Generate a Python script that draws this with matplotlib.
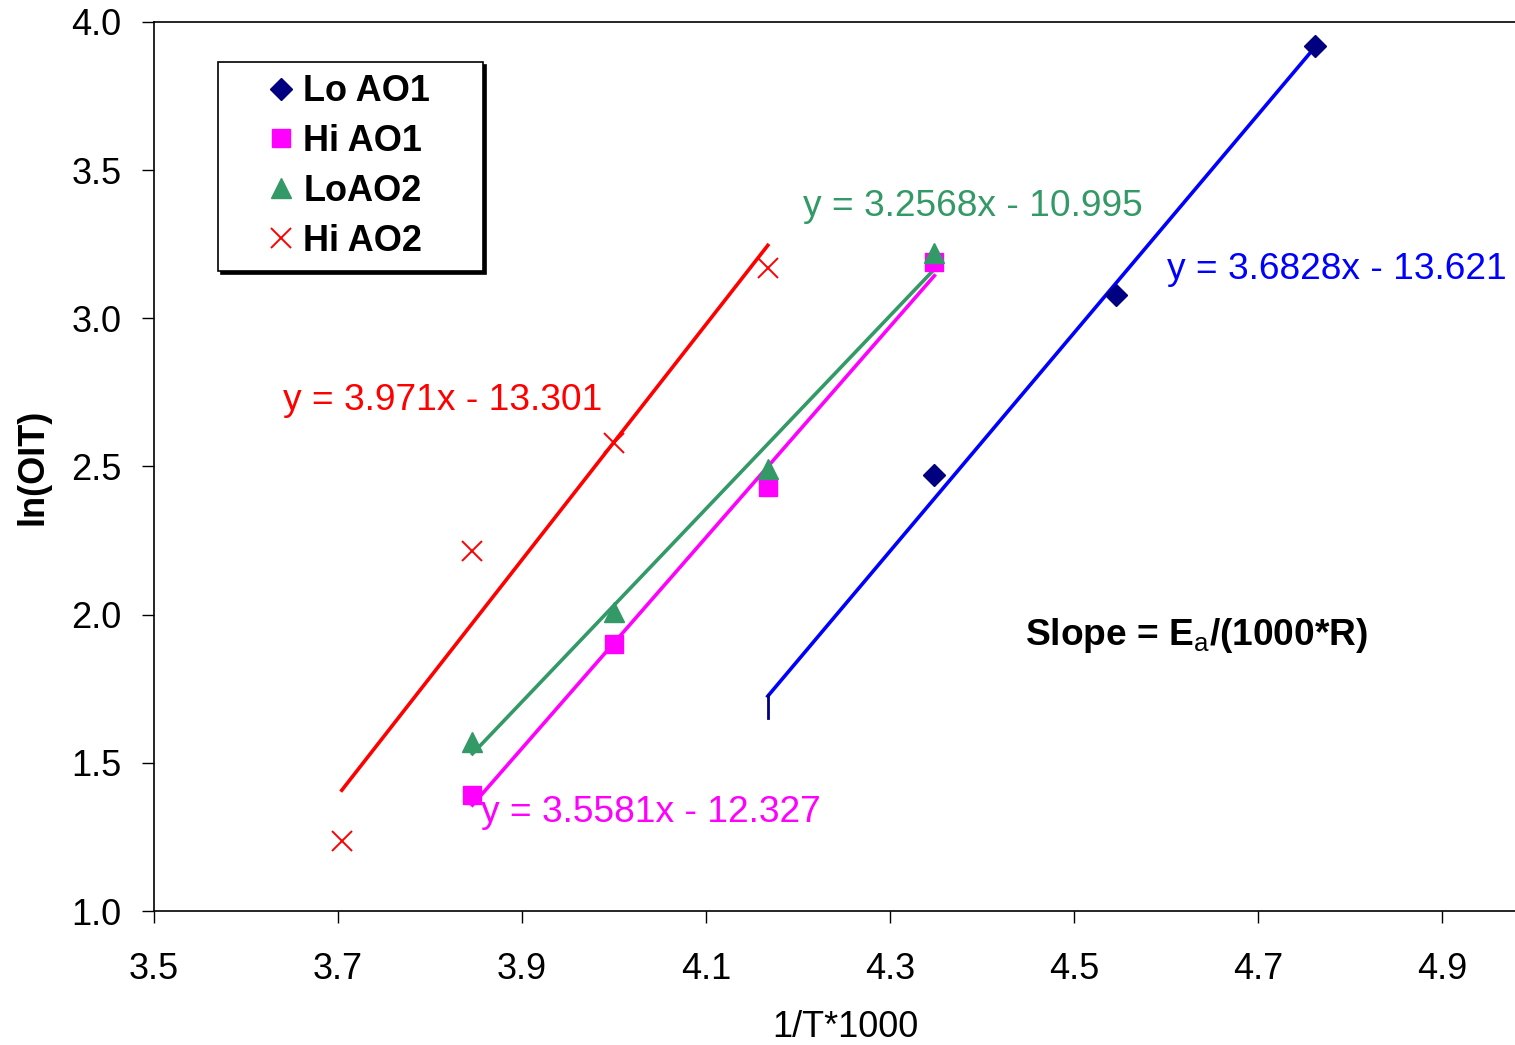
import numpy as np
import matplotlib
matplotlib.use("Agg")
import matplotlib.pyplot as plt

plt.rcParams['font.family'] = ['Liberation Sans', 'DejaVu Sans']
plt.rcParams['mathtext.fontset'] = 'custom'
plt.rcParams['mathtext.rm'] = 'Liberation Sans'
plt.rcParams['mathtext.bf'] = 'Liberation Sans:bold'

# data: x = 1000/T, y = ln(OIT)
lo_ao1_x = [4.348, 4.545, 4.762]
lo_ao1_y = [2.47, 3.08, 3.92]
hi_ao1_x = [3.846, 4.000, 4.167, 4.348]
hi_ao1_y = [1.39, 1.90, 2.43, 3.19]
lo_ao2_x = [3.846, 4.000, 4.167, 4.348]
lo_ao2_y = [1.57, 2.01, 2.49, 3.22]
hi_ao2_x = [3.704, 3.846, 4.000, 4.167]
hi_ao2_y = [1.235, 2.215, 2.58, 3.17]

# trendlines (slope, intercept, x range)
lo_ao1_fit = (3.6828, -13.621, 4.167, 4.762)
hi_ao1_fit = (3.5581, -12.327, 3.846, 4.348)
lo_ao2_fit = (3.2568, -10.995, 3.846, 4.348)
hi_ao2_fit = (3.971, -13.301, 3.704, 4.167)

# little navy stub under the blue line
stub_x = [4.167, 4.167]
stub_y = [1.65, 1.73]

labels = ["Lo AO1", "Hi AO1", "LoAO2", "Hi AO2"]

fig = plt.figure(figsize=(15.15, 10.45), dpi=100)
ax = fig.add_axes([0.1017, 0.1282, 0.8983, 0.8508])

def fitline(fit):
    m, b, x0, x1 = fit
    xs = np.array([x0, x1])
    return xs, m * xs + b

lw = 2.6
xs, ys = fitline(lo_ao1_fit)
ax.plot(xs, ys, color='#0000FF', lw=lw, zorder=2)
xs, ys = fitline(hi_ao1_fit)
ax.plot(xs, ys, color='#FF00FF', lw=lw, zorder=2)
xs, ys = fitline(lo_ao2_fit)
ax.plot(xs, ys, color='#339966', lw=lw, zorder=2)
xs, ys = fitline(hi_ao2_fit)
ax.plot(xs, ys, color='#FF0000', lw=lw, zorder=2)
ax.plot(stub_x, stub_y, color='#000080', lw=2, zorder=2)

ax.plot(lo_ao1_x, lo_ao1_y, 'D', color='#000080', ms=11, ls='none', label=labels[0], zorder=3)
ax.plot(hi_ao1_x, hi_ao1_y, 's', color='#FF00FF', ms=13, ls='none', label=labels[1], zorder=3)
ax.plot(lo_ao2_x, lo_ao2_y, '^', color='#339966', ms=14, ls='none', label=labels[2], zorder=3)
ax.plot(hi_ao2_x, hi_ao2_y, 'x', color='#FF0000', ms=15, mew=1.4, ls='none', label=labels[3], zorder=3)

fs = 26
tfs = 26.7
ax.text(4.205, 3.378, "y = 3.2568x - 10.995", color='#339966', fontsize=tfs, va='center')
ax.text(4.601, 3.166, "y = 3.6828x - 13.621", color='#0000FF', fontsize=tfs, va='center')
ax.text(3.640, 2.724, "y = 3.971x - 13.301", color='#FF0000', fontsize=tfs, va='center')
ax.text(3.855, 1.333, "y = 3.5581x - 12.327", color='#FF00FF', fontsize=tfs, va='center')
ax.text(4.446, 1.930, r"Slope = E$_\mathrm{a}$/(1000*R)", color='black', fontsize=tfs,
        fontweight='bold', va='center')

ax.set_xlim(3.5, 4.979)
ax.set_ylim(1.0, 4.0)
ax.set_xticks(np.arange(3.5, 4.95, 0.2))
ax.set_yticks(np.arange(1.0, 4.01, 0.5))
ax.xaxis.set_major_formatter(matplotlib.ticker.FormatStrFormatter('%.1f'))
ax.yaxis.set_major_formatter(matplotlib.ticker.FormatStrFormatter('%.1f'))
ax.tick_params(direction='out', length=8.5, width=1, labelsize=fs)
ax.tick_params(axis='y', pad=15)
ax.tick_params(axis='x', pad=21)
ax.spines['right'].set_visible(False)
for s in ['left', 'bottom', 'top']:
    ax.spines[s].set_linewidth(1.2)

ax.set_xlabel("1/T*1000", fontsize=fs)
ax.set_ylabel("ln(OIT)", fontsize=fs, fontweight='bold')
ax.xaxis.set_label_coords(0.508, -0.111)
ax.yaxis.set_label_coords(-0.076, 0.5)

leg = ax.legend(loc='upper left', bbox_to_anchor=(0.047, 0.5, 0.1947, 0.455), mode='expand',
                borderaxespad=0, fancybox=False, shadow={'color': 'black', 'alpha': 1},
                prop={'weight': 'bold', 'size': fs}, handlelength=2.79, handletextpad=-0.77,
                borderpad=0.34, labelspacing=0.41, numpoints=1)
leg.get_frame().set_edgecolor('black')
leg.get_frame().set_linewidth(1.2)

fig.savefig("out.png", dpi=100)
